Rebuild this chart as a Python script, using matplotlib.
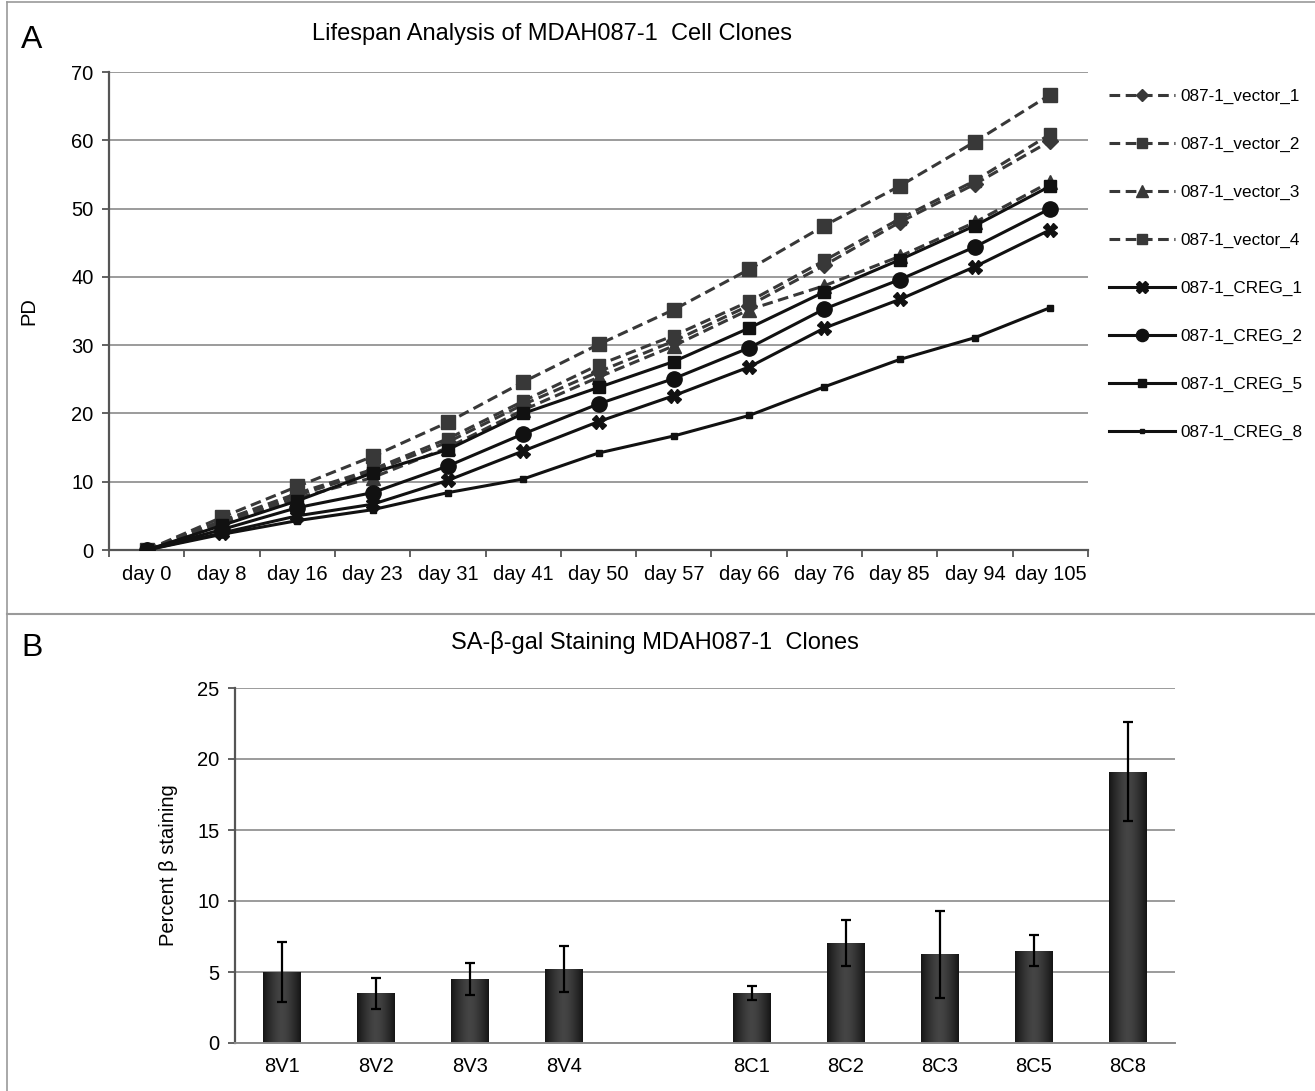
import numpy as np
import matplotlib
matplotlib.use('Agg')
import matplotlib.pyplot as plt
from matplotlib.lines import Line2D
from matplotlib.colors import LinearSegmentedColormap

plt.rcParams['font.family'] = ['Liberation Sans', 'DejaVu Sans']

# ---- panel A data (PD per day) ----
days = ['day 0', 'day 8', 'day 16', 'day 23', 'day 31', 'day 41', 'day 50',
        'day 57', 'day 66', 'day 76', 'day 85', 'day 94', 'day 105']
vector_1 = [0, 4.1, 8.0, 11.5, 15.8, 21.3, 26.1, 30.6, 35.8, 41.7, 48.0, 53.6, 59.9]
vector_2 = [0, 4.3, 8.3, 11.8, 16.3, 21.8, 27.1, 31.4, 36.4, 42.4, 48.5, 54.1, 60.9]
vector_3 = [0, 3.8, 7.6, 10.6, 15.0, 20.5, 25.3, 29.9, 35.2, 38.7, 43.0, 48.0, 53.9]
vector_4 = [0, 4.8, 9.3, 13.7, 18.7, 24.6, 30.1, 35.2, 41.1, 47.5, 53.3, 59.8, 66.7]
creg_1 = [0, 2.5, 5.0, 6.7, 10.2, 14.5, 18.8, 22.6, 26.8, 32.5, 36.7, 41.5, 46.9]
creg_2 = [0, 3.0, 6.2, 8.4, 12.3, 17.0, 21.4, 25.1, 29.6, 35.3, 39.6, 44.4, 50.0]
creg_5 = [0, 3.6, 7.2, 11.3, 14.7, 20.0, 23.8, 27.6, 32.5, 37.8, 42.5, 47.5, 53.3]
creg_8 = [0, 2.3, 4.3, 5.9, 8.4, 10.4, 14.2, 16.7, 19.7, 23.9, 27.9, 31.1, 35.5]

# ---- panel B data (percent beta staining) ----
vec_clones = ['8V1', '8V2', '8V3', '8V4']
vec_means = [5.0, 3.5, 4.5, 5.2]
vec_err = [2.1, 1.1, 1.1, 1.6]
creg_clones = ['8C1', '8C2', '8C3', '8C5', '8C8']
creg_means = [3.5, 7.05, 6.25, 6.5, 19.1]
creg_err = [0.5, 1.6, 3.05, 1.1, 3.5]

W, H = 1315, 1091
fig = plt.figure(figsize=(W / 100, H / 100), dpi=100)

def box(l, t, r, b):
    return [l / W, 1 - b / H, (r - l) / W, (b - t) / H]

grid_col = '#8a8a8a'
spine_col = '#555555'

# ================= panel A =================
axA = fig.add_axes(box(109, 72, 1088, 550))
x = np.arange(len(days))

vec_col = '#383838'
dash = (0, (3.5, 1.8))
series = [
    ('087-1_vector_1', vector_1, vec_col, dash, 'D', 8),
    ('087-1_vector_2', vector_2, vec_col, dash, 's', 9),
    ('087-1_vector_3', vector_3, vec_col, dash, '^', 10),
    ('087-1_vector_4', vector_4, vec_col, dash, 's', 9.5),
    ('087-1_CREG_1', creg_1, '#111111', '-', 'X', 10),
    ('087-1_CREG_2', creg_2, '#111111', '-', 'o', 11),
    ('087-1_CREG_5', creg_5, '#111111', '-', 's', 8),
    ('087-1_CREG_8', creg_8, '#111111', '-', 's', 4),
]
handles = []
for name, vals, col, ls, mk, ms in series:
    h, = axA.plot(x, vals, color=col, linestyle=ls, linewidth=2.2, marker=mk,
                  markersize=ms, markerfacecolor=col, markeredgecolor=col,
                  label=name, zorder=3)
    handles.append(h)

axA.set_xlim(-0.5, len(days) - 0.5)
axA.set_ylim(0, 70)
axA.set_yticks(np.arange(0, 71, 10))
axA.set_xticks(np.arange(-0.5, len(days)), labels=[''] * (len(days) + 1))
axA.set_xticks(x, labels=days, minor=True)
axA.tick_params(axis='x', which='minor', length=0, pad=11, labelsize=14.5)
axA.tick_params(axis='x', which='major', length=5, width=1.3, color=spine_col)
axA.tick_params(axis='y', length=5, width=1.3, color=spine_col, labelsize=14.5, pad=6)
axA.yaxis.grid(True, color=grid_col, linewidth=1.2)
axA.set_axisbelow(True)
for s in ['top', 'right']:
    axA.spines[s].set_visible(False)
for s in ['left', 'bottom']:
    axA.spines[s].set_color(spine_col)
    axA.spines[s].set_linewidth(1.6)
axA.set_ylabel('PD', fontsize=14.5, labelpad=24)

fig.legend(handles=handles, loc='upper left', bbox_to_anchor=(1100 / W, 1 - 80 / H),
           frameon=False, fontsize=12.3, labelspacing=1.93, handlelength=3.9,
           handletextpad=0.3, borderpad=0, markerscale=0.8)

fig.text(552 / W, 1 - 34 / H, 'Lifespan Analysis of MDAH087-1  Cell Clones',
         ha='center', va='center', fontsize=17)
fig.text(32 / W, 1 - 40 / H, 'A', ha='center', va='center', fontsize=23)

# ================= panel B =================
axB = fig.add_axes(box(235, 688, 1175, 1043))
pos_v = np.arange(len(vec_clones))
pos_c = np.arange(len(creg_clones)) + len(vec_clones) + 1
pos = np.concatenate([pos_v, pos_c])
means = vec_means + creg_means
errs = vec_err + creg_err
labels = vec_clones + creg_clones

bars = axB.bar(pos, means, width=0.4, color='#262626', zorder=2)
cyl = LinearSegmentedColormap.from_list('cyl', ['#454545', '#151515'])
grad = np.abs(np.linspace(-1, 1, 64))[None, :] ** 1.5
for b in bars:
    bx, bw, bh = b.get_x(), b.get_width(), b.get_height()
    im = axB.imshow(grad, extent=[bx, bx + bw, 0, bh], aspect='auto',
                    cmap=cyl, vmin=0, vmax=1, zorder=2.5)
    im.set_clip_path(b)
axB.errorbar(pos, means, yerr=errs, fmt='none', ecolor='black', elinewidth=1.6,
             capsize=3.5, capthick=1.6, zorder=4)

axB.set_xlim(-0.5, len(vec_clones) + len(creg_clones) + 0.5)
axB.set_ylim(0, 25)
axB.set_yticks(np.arange(0, 26, 5))
axB.set_xticks(pos, labels=labels)
axB.tick_params(axis='x', length=0, pad=10, labelsize=14.5)
axB.tick_params(axis='y', length=5, width=1.3, color=spine_col, labelsize=14.5, pad=6)
axB.yaxis.grid(True, color=grid_col, linewidth=1.2)
axB.set_axisbelow(True)
for s in ['top', 'right']:
    axB.spines[s].set_visible(False)
axB.spines['left'].set_color(spine_col)
axB.spines['left'].set_linewidth(1.6)
axB.spines['bottom'].set_color(grid_col)
axB.spines['bottom'].set_linewidth(1.4)
axB.set_ylabel('Percent β staining', fontsize=14.5, labelpad=14)

fig.text(655 / W, 1 - 643 / H, 'SA-β-gal Staining MDAH087-1  Clones',
         ha='center', va='center', fontsize=17)
fig.text(32 / W, 1 - 648 / H, 'B', ha='center', va='center', fontsize=23)

# panel frame
frame_col = '#9a9a9a'
fig.add_artist(Line2D([7 / W, 7 / W], [0, 1 - 2 / H], color=frame_col, lw=1.2))
fig.add_artist(Line2D([7 / W, 1], [1 - 2 / H, 1 - 2 / H], color=frame_col, lw=1.2))
fig.add_artist(Line2D([7 / W, 1], [1 - 614 / H, 1 - 614 / H], color=frame_col, lw=1.5))

fig.savefig('out.png', dpi=100)
